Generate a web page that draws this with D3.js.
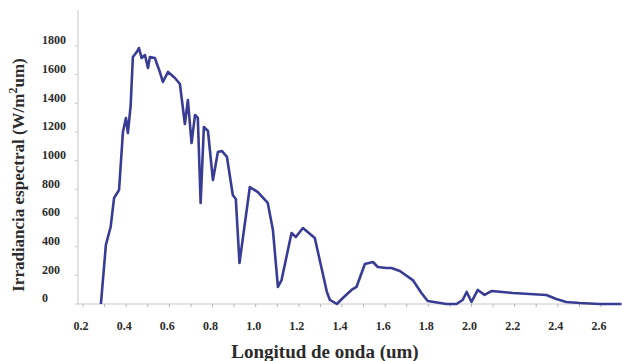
<!DOCTYPE html>
<html>
<head>
<meta charset="utf-8">
<script src="https://cdn.jsdelivr.net/npm/d3@7"></script>
<style>
  body { margin: 0; background: #fff; }
  svg { display: block; }
  .lbl { font-family: "Liberation Serif", "DejaVu Serif", serif; font-weight: bold; fill: #2b2b2b; }
</style>
</head>
<body>
<svg id="chart" width="622" height="361"></svg>
<script>
// wavelength (um) and spectral irradiance (W/m2um)
const wavelength = [0.283, 0.306, 0.328, 0.344, 0.367, 0.385, 0.399, 0.408, 0.421, 0.431,
  0.449, 0.459, 0.472, 0.487, 0.501, 0.510, 0.533, 0.556, 0.570, 0.594,
  0.626, 0.649, 0.672, 0.686, 0.703, 0.719, 0.732, 0.745, 0.760, 0.779,
  0.802, 0.825, 0.844, 0.867, 0.894, 0.908, 0.925, 0.973, 1.010, 1.056,
  1.080, 1.103, 1.120, 1.166, 1.186, 1.219, 1.274, 1.330, 1.344, 1.376,
  1.404, 1.444, 1.467, 1.506, 1.543, 1.566, 1.606, 1.629, 1.668, 1.728,
  1.768, 1.797, 1.884, 1.930, 1.959, 1.978, 2.000, 2.029, 2.061, 2.094,
  2.191, 2.269, 2.347, 2.393, 2.439, 2.501, 2.594, 2.695];
const irradiance = [0, 412, 537, 740, 795, 1200, 1298, 1193, 1388, 1723,
  1758, 1786, 1716, 1737, 1647, 1723, 1716, 1619, 1549, 1619,
  1577, 1535, 1256, 1423, 1123, 1319, 1298, 705, 1235, 1207,
  865, 1060, 1067, 1026, 760, 733, 286, 816, 781, 705,
  516, 119, 167, 495, 467, 530, 460, 84, 28, 0,
  42, 98, 119, 279, 293, 258, 251, 251, 230, 167,
  77, 21, 0, 0, 28, 84, 14, 98, 63, 91,
  77, 70, 63, 35, 14, 7, 0, 0];
const xTicks = [0.2, 0.4, 0.6, 0.8, 1.0, 1.2, 1.4, 1.6, 1.8, 2.0, 2.2, 2.4, 2.6];
const yTicks = [0, 200, 400, 600, 800, 1000, 1200, 1400, 1600, 1800];

const svg = d3.select('#chart');
const x = d3.scaleLinear().domain([0.2, 2.6]).range([83, 601]);
const y = d3.scaleLinear().domain([0, 1800]).range([304, 46]);
const data = wavelength.map((w, i) => ({ w: w, v: irradiance[i] }));

// axes lines
svg.append('line')
  .attr('x1', 78).attr('x2', 78).attr('y1', 10).attr('y2', 304)
  .attr('stroke', '#c8c8c8').attr('stroke-width', 1);
svg.append('line')
  .attr('x1', 78).attr('x2', 622).attr('y1', 304).attr('y2', 304)
  .attr('stroke', '#c8c8c8').attr('stroke-width', 1);

// minor ticks
svg.selectAll('.xt')
  .data(d3.range(0.2, 2.75, 0.1))
  .enter().append('line')
  .attr('x1', d => x(d)).attr('x2', d => x(d))
  .attr('y1', 304).attr('y2', 307)
  .attr('stroke', '#b5b5b5');
svg.selectAll('.yt')
  .data(yTicks)
  .enter().append('line')
  .attr('x1', 75).attr('x2', 78)
  .attr('y1', d => y(d)).attr('y2', d => y(d))
  .attr('stroke', '#c8c8c8');

// tick labels
svg.selectAll('.ylab')
  .data(yTicks)
  .enter().append('text')
  .attr('class', 'lbl')
  .attr('x', 42)
  .attr('y', d => y(d) - 6)
  .attr('dy', '0.35em')
  .attr('font-size', 12)
  .text(d => d);
svg.selectAll('.xlab')
  .data(xTicks)
  .enter().append('text')
  .attr('class', 'lbl')
  .attr('x', d => x(d) - 2)
  .attr('y', 326)
  .attr('dy', '0.35em')
  .attr('text-anchor', 'middle')
  .attr('font-size', 12)
  .text(d => d.toFixed(1));

// titles
svg.append('text')
  .attr('class', 'lbl')
  .attr('x', 325).attr('y', 358)
  .attr('text-anchor', 'middle')
  .attr('font-size', 19)
  .text('Longitud de onda (um)');

const yt = svg.append('text')
  .attr('class', 'lbl')
  .attr('transform', 'translate(24,175) rotate(-90)')
  .attr('text-anchor', 'middle')
  .attr('font-size', 17);
yt.append('tspan').text('Irradiancia espectral  (W/m');
yt.append('tspan').attr('baseline-shift', 'super').attr('font-size', 12).text('2');
yt.append('tspan').text('um)');

// curve
const line = d3.line()
  .x(d => x(d.w))
  .y(d => y(d.v))
  .curve(d3.curveLinear);
svg.append('path')
  .datum(data)
  .attr('d', line)
  .attr('fill', 'none')
  .attr('stroke', '#383c94')
  .attr('stroke-width', 2.6)
  .attr('stroke-linejoin', 'round');
</script>
</body>
</html>
